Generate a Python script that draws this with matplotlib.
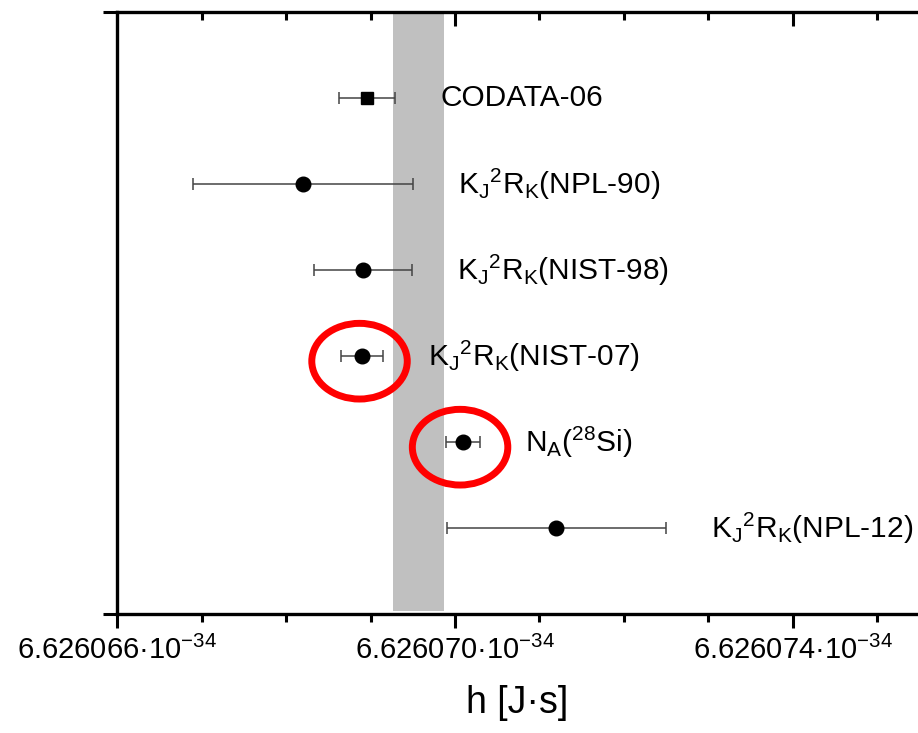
import numpy as np
import matplotlib
matplotlib.use("Agg")
from matplotlib import pyplot as plt
from matplotlib.patches import Ellipse
from matplotlib.ticker import MultipleLocator, FixedLocator, FuncFormatter

plt.rcParams['font.family'] = ['Liberation Sans', 'DejaVu Sans']
plt.rcParams['mathtext.fontset'] = 'custom'
plt.rcParams['mathtext.rm'] = 'Liberation Sans'
plt.rcParams['mathtext.it'] = 'Liberation Sans'

# h values, in units of 1e-40 J s above 6.626000e-34
labels = ['CODATA-06', r'K$_J{}^2$R$_K$(NPL-90)', r'K$_J{}^2$R$_K$(NIST-98)',
          r'K$_J{}^2$R$_K$(NIST-07)', r'N$_A$($^{28}$Si)', r'K$_J{}^2$R$_K$(NPL-12)']
h_val = [68.96, 68.20, 68.91, 68.90, 70.09, 71.20]
h_err = [0.33, 1.30, 0.58, 0.25, 0.20, 1.30]
ypos = [6, 5, 4, 3, 2, 1]
markers = ['s', 'o', 'o', 'o', 'o', 'o']
band = (69.27, 69.87)
circled = [3, 4]
major_ticks = [66, 70, 74]

fig = plt.figure(figsize=(9.18, 7.33), dpi=100)
ax = fig.add_axes([0.1275, 0.1623, 0.8725, 0.8213])

ax.axvspan(band[0], band[1], ymin=0.005, ymax=1, color='#c0c0c0', lw=0, zorder=1)

for i in range(len(h_val)):
    ms = 8 if markers[i] == 's' else 10.5
    ax.errorbar(h_val[i], ypos[i], xerr=h_err[i], fmt=markers[i], color='black',
                ms=ms, ecolor='#444444', elinewidth=1.1, capsize=4.5, capthick=1.1, zorder=3)
    ax.annotate(labels[i], (h_val[i] + h_err[i], ypos[i]), xytext=(32.5, 0),
                textcoords='offset points', va='center', ha='left', fontsize=21.5)

for i in circled:
    ax.add_patch(Ellipse((h_val[i] - 0.03, ypos[i] - 0.06), 1.13, 0.88, fill=False,
                         edgecolor='#ff0000', lw=5, zorder=4, clip_on=False))

ax.set_xlim(66, 75.48)
ax.set_ylim(0, 7)

ax.spines['right'].set_visible(False)
for s in ['left', 'top', 'bottom']:
    ax.spines[s].set_linewidth(2.4)

ax.xaxis.set_major_locator(FixedLocator(major_ticks))
ax.xaxis.set_minor_locator(MultipleLocator(1))
ax.xaxis.set_major_formatter(FuncFormatter(
    lambda v, p: '6.6260%02d·10$^{-34}$' % round(v)))
ax.tick_params(axis='x', which='major', direction='out', length=10, width=2.2,
               labelsize=21, pad=6)
ax.tick_params(axis='x', which='minor', direction='out', length=6, width=2.2)
ax.yaxis.set_major_locator(FixedLocator([0, 7]))
ax.yaxis.set_ticklabels([])
ax.tick_params(axis='y', which='major', direction='out', length=10, width=2.2)
ax.set_xlabel('h [J·s]', fontsize=27, labelpad=14)

# inward ticks along the top edge, same places as the bottom ones
lo, hi = ax.get_xlim()
xt = [v for v in ax.xaxis.get_minorticklocs() if lo < v < hi and v not in major_ticks]
tr = ax.get_xaxis_transform()
ax.vlines(xt, 1 - 0.014, 1, colors='black', lw=2.2, transform=tr, clip_on=False, zorder=6)
ax.vlines(major_ticks[1:], 1 - 0.024, 1, colors='black', lw=2.2, transform=tr,
          clip_on=False, zorder=6)

fig.savefig('out.png', dpi=100)
